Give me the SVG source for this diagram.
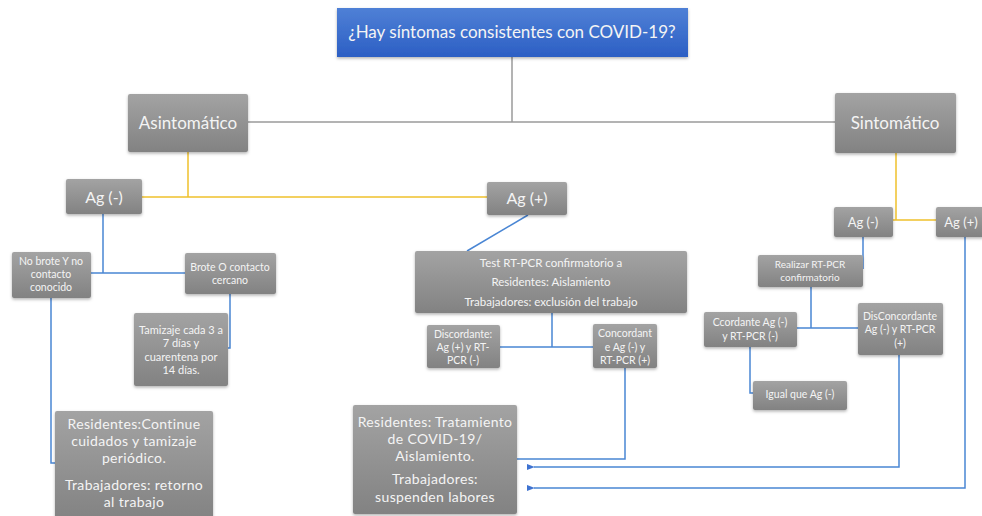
<svg xmlns="http://www.w3.org/2000/svg" width="982" height="516" viewBox="0 0 982 516">
<defs>
<linearGradient id="gGray" x1="0" y1="0" x2="0" y2="1">
<stop offset="0" stop-color="#a3a3a3"/>
<stop offset="1" stop-color="#828282"/>
</linearGradient>
<linearGradient id="gBlue" x1="0" y1="0" x2="0" y2="1">
<stop offset="0" stop-color="#4f80d6"/>
<stop offset="1" stop-color="#2c5fc4"/>
</linearGradient>
<filter id="sh" x="-10%" y="-10%" width="120%" height="130%">
<feDropShadow dx="0" dy="1.5" stdDeviation="1.5" flood-color="#000" flood-opacity="0.3"/>
</filter>
<marker id="arr" viewBox="0 0 10 10" refX="1" refY="5" markerWidth="8" markerHeight="8" orient="auto-start-reverse" markerUnits="userSpaceOnUse">
<path d="M0,5 L10,1 L10,9 Z" fill="#3f73d1"/>
</marker>
</defs>
<style>
.box{fill:url(#gGray);filter:url(#sh)}
.t{font-family:Lato,"Open Sans",sans-serif;fill:#f4f4f4;text-anchor:middle}
.big{font-size:14px;letter-spacing:0.35px}
.gl{stroke:#9a9a9a;stroke-width:1.5;fill:none}
.yl{stroke:#f0c12c;stroke-width:1.5;fill:none}
.bl{stroke:#4a86d4;stroke-width:1.5;fill:none}
</style>
<rect width="982" height="516" fill="#ffffff"/>
<g id="connectors">
<path class="gl" d="M512,57 V122 M248,122 H836"/>
<path class="yl" d="M188,152 V197 M142,197 H488"/>
<path class="yl" d="M896,153 V220 M893,220 H936"/>
<path class="bl" d="M103,214 V273 M91,273 H185"/>
<path class="bl" d="M51,297 V463 H55"/>
<path class="bl" d="M230,294 V348 H228"/>
<path class="bl" d="M528,215 L467,251"/>
<path class="bl" d="M552,313 V347 M500,347 H593"/>
<path class="bl" d="M625,368 V459 H517"/>
<path class="bl" d="M863,237 V269"/>
<path class="bl" d="M811,287 V328 M797,328 H858"/>
<path class="bl" d="M750,347 V393 H753"/>
<path class="bl" d="M899,355 V467 H534" marker-end="url(#arr)"/>
<path class="bl" d="M965,228 V488 H534" marker-end="url(#arr)"/>
</g>
<g id="n-title">
<rect x="337" y="8" width="351" height="49" fill="url(#gBlue)" filter="url(#sh)"/>
<text class="t" x="512" y="38" font-size="17" fill="#ffffff">¿Hay síntomas consistentes con COVID-19?</text>
</g>
<g id="n-asint">
<rect class="box" x="128" y="94" width="120" height="58" rx="2"/>
<text class="t" x="188" y="129" font-size="17">Asintomático</text>
</g>
<g id="n-sint">
<rect class="box" x="835" y="93" width="121" height="60" rx="2"/>
<text class="t" x="895" y="129" font-size="17">Sintomático</text>
</g>
<g id="n-agneg-l">
<rect class="box" x="66" y="179" width="76" height="35" rx="2"/>
<text class="t" x="104" y="203" font-size="16">Ag (-)</text>
</g>
<g id="n-agpos-m">
<rect class="box" x="487" y="182" width="80" height="33" rx="2"/>
<text class="t" x="527" y="204" font-size="16">Ag (+)</text>
</g>
<g id="n-nobrote">
<rect class="box" x="12" y="252" width="79" height="46" rx="2"/>
<text class="t" font-size="10.5"><tspan x="51" y="265">No brote Y no</tspan><tspan x="51" y="278">contacto</tspan><tspan x="51" y="291">conocido</tspan></text>
</g>
<g id="n-brote">
<rect class="box" x="185" y="253" width="91" height="41" rx="2"/>
<text class="t" font-size="10.5"><tspan x="230" y="271">Brote O contacto</tspan><tspan x="230" y="284">cercano</tspan></text>
</g>
<g id="n-tamizaje">
<rect class="box" x="134" y="313" width="94" height="73" rx="2"/>
<text class="t" font-size="11"><tspan x="181" y="334">Tamizaje cada 3 a</tspan><tspan x="181" y="347">7 días y</tspan><tspan x="181" y="361">cuarentena por</tspan><tspan x="181" y="374">14 días.</tspan></text>
</g>
<g id="n-resid-cont">
<rect class="box" x="55" y="411" width="158" height="110" rx="2"/>
<text class="t big"><tspan x="134" y="429">Residentes:Continue</tspan><tspan x="134" y="446">cuidados y tamizaje</tspan><tspan x="134" y="463">periódico.</tspan><tspan x="134" y="490">Trabajadores: retorno</tspan><tspan x="134" y="507">al trabajo</tspan></text>
</g>
<g id="n-test">
<rect class="box" x="415" y="251" width="272" height="62" rx="2"/>
<text class="t" font-size="11.5"><tspan x="551" y="267">Test RT-PCR confirmatorio a</tspan><tspan x="551" y="286">Residentes: Aislamiento</tspan><tspan x="551" y="306">Trabajadores: exclusión del trabajo</tspan></text>
</g>
<g id="n-discord">
<rect class="box" x="427" y="325" width="73" height="43" rx="2"/>
<text class="t" font-size="10.5"><tspan x="463" y="338">Discordante:</tspan><tspan x="463" y="351">Ag (+)  y RT-</tspan><tspan x="463" y="364">PCR (-)</tspan></text>
</g>
<g id="n-concord">
<rect class="box" x="593" y="324" width="64" height="44" rx="2"/>
<text class="t" font-size="10.5"><tspan x="625" y="337">Concordant</tspan><tspan x="625" y="351">e Ag (-) y</tspan><tspan x="625" y="364">RT-PCR (+)</tspan></text>
</g>
<g id="n-tratamiento">
<rect class="box" x="353" y="405" width="164" height="109" rx="2"/>
<text class="t big"><tspan x="435" y="427">Residentes: Tratamiento</tspan><tspan x="435" y="444">de COVID-19/</tspan><tspan x="435" y="461">Aislamiento.</tspan><tspan x="435" y="484">Trabajadores:</tspan><tspan x="435" y="502">suspenden labores</tspan></text>
</g>
<g id="n-agneg-r">
<rect class="box" x="834" y="207" width="59" height="30" rx="2"/>
<text class="t" x="863" y="227" font-size="13">Ag (-)</text>
</g>
<g id="n-agpos-r">
<rect class="box" x="936" y="207" width="48" height="30" rx="2"/>
<text class="t" x="961" y="227" font-size="13">Ag (+)</text>
</g>
<g id="n-realizar">
<rect class="box" x="758" y="255" width="105" height="32" rx="2"/>
<text class="t" font-size="10"><tspan x="810" y="268">Realizar RT-PCR</tspan><tspan x="810" y="281">confirmatorio</tspan></text>
</g>
<g id="n-ccordante">
<rect class="box" x="704" y="312" width="93" height="35" rx="2"/>
<text class="t" font-size="10.5"><tspan x="750" y="326">Ccordante Ag (-)</tspan><tspan x="750" y="340">y RT-PCR (-)</tspan></text>
</g>
<g id="n-disconc">
<rect class="box" x="858" y="303" width="85" height="52" rx="2"/>
<text class="t" font-size="10.5"><tspan x="900" y="320">DisConcordante</tspan><tspan x="900" y="333">Ag (-)  y RT-PCR</tspan><tspan x="900" y="347">(+)</tspan></text>
</g>
<g id="n-igual">
<rect class="box" x="753" y="381" width="94" height="29" rx="2"/>
<text class="t" x="800" y="398" font-size="10.5">Igual que Ag (-)</text>
</g>
</svg>
